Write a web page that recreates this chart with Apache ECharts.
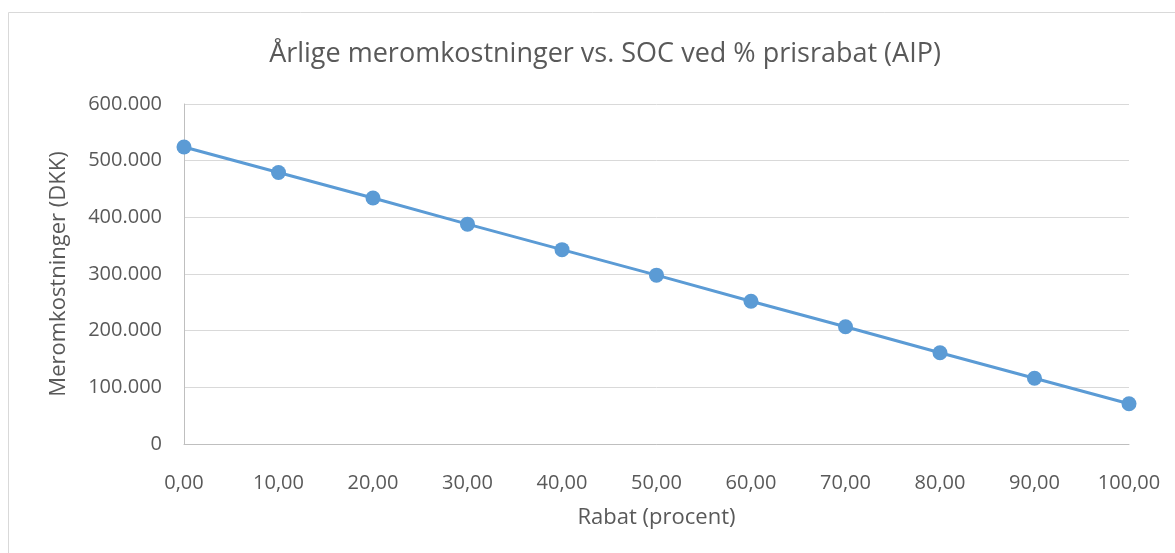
<!DOCTYPE html>
<html>
<head>
<meta charset="utf-8">
<script src="https://cdn.jsdelivr.net/npm/echarts@6/dist/echarts.min.js"></script>
<style>
  html, body { margin: 0; padding: 0; background: #ffffff; }
  #chart { width: 1175px; height: 553px; }
</style>
</head>
<body>
<div id="chart"></div>
<script>
// rabat i procent
const categories = ["0,00", "10,00", "20,00", "30,00", "40,00", "50,00", "60,00", "70,00", "80,00", "90,00", "100,00"];
// årlige meromkostninger (DKK)
const costs = [524000, 479000, 434000, 388000, 343000, 298000, 252000, 207000, 161000, 116000, 71000];

const chart = echarts.init(document.getElementById("chart"));
const font = "'Open Sans', 'Noto Sans', sans-serif";

chart.setOption({
    animation: false,
    textStyle: { fontFamily: font },
    graphic: [
        {
            type: "rect",
            shape: { x: 8.5, y: 12.5, width: 1180, height: 560 },
            style: { fill: "none", stroke: "#d9d9d9", lineWidth: 1 },
        },
    ],
    title: {
        text: "Årlige meromkostninger vs. SOC ved % prisrabat (AIP)",
        left: 600,
        top: 36,
        textAlign: "center",
        textStyle: { fontFamily: font, fontSize: 27, fontWeight: "normal", color: "#595959" },
    },
    grid: { left: 184, right: 46, top: 104, bottom: 109 },
    xAxis: {
        type: "category",
        data: categories,
        boundaryGap: false,
        name: "Rabat (procent)",
        nameLocation: "middle",
        nameGap: 63,
        nameTextStyle: { fontFamily: font, fontSize: 22, color: "#595959" },
        axisLine: { lineStyle: { color: "#bfbfbf", width: 1 } },
        axisTick: { show: false },
        axisLabel: { fontFamily: font, fontSize: 20, color: "#595959", margin: 29 },
        splitLine: { show: false },
    },
    yAxis: {
        type: "value",
        min: 0,
        max: 600000,
        interval: 100000,
        name: "Meromkostninger (DKK)",
        nameLocation: "middle",
        nameGap: 114,
        nameTextStyle: { fontFamily: font, fontSize: 22, color: "#595959" },
        axisLine: { show: true, lineStyle: { color: "#bfbfbf", width: 1 } },
        axisTick: { show: false },
        axisLabel: {
            fontFamily: font,
            fontSize: 20,
            color: "#595959",
            margin: 22,
            formatter: (v) => (v === 0 ? "0" : v.toLocaleString("da-DK").replace(/,/g, ".")),
        },
        splitLine: { lineStyle: { color: "#d9d9d9", width: 1 } },
    },
    series: [
        {
            type: "line",
            data: costs,
            symbol: "circle",
            symbolSize: 15,
            lineStyle: { color: "#5b9bd5", width: 3 },
            itemStyle: { color: "#5b9bd5" },
        },
    ],
});
</script>
</body>
</html>
